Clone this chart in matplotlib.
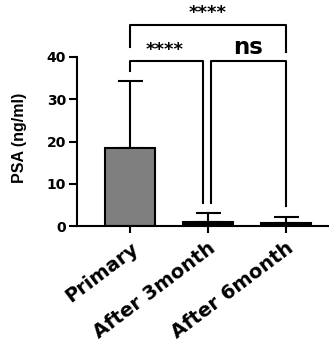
import matplotlib
matplotlib.use("Agg")
import matplotlib.pyplot as plt
from matplotlib.transforms import ScaledTranslation

plt.rcParams['font.family'] = ['DejaVu Sans']
plt.rcParams['font.weight'] = 'bold'

categories = ["Primary", "After 3month", "After 6month"]
means = [18.4, 1.0, 0.8]
err_up = [15.9, 2.0, 1.4]
bar_colors = ["#7f7f7f", "#000000", "#000000"]
yticks = [0, 10, 20, 30, 40]

W, H = 329, 345
fig = plt.figure(figsize=(W / 100, H / 100), dpi=100)
ax = fig.add_axes([77 / W, (H - 226) / H, (W - 77) / W + 0.01, (226 - 57) / H])

x = list(range(len(categories)))
ax.bar(x, means, width=0.645, color=bar_colors, edgecolor="black", linewidth=1.5, zorder=2)
ax.errorbar(x, means, yerr=[[0] * 3, err_up], fmt="none", ecolor="black",
            elinewidth=1.5, capsize=9, capthick=1.5, zorder=1)

ax.set_xlim(-0.684, 2.6)
ax.set_ylim(0, 40)
ax.set_yticks(yticks)
ax.set_xticks(x)
ax.set_xticklabels(categories, rotation=37, ha="right", va="top", rotation_mode="anchor",
                   fontsize=14, fontweight="bold")
offset = ScaledTranslation(9 / 100, 0, fig.dpi_scale_trans)
for lab in ax.get_xticklabels():
    lab.set_transform(lab.get_transform() + offset)
ax.tick_params(axis="y", labelsize=10, width=1.5, length=6, pad=2)
ax.tick_params(axis="x", width=1.5, length=5, pad=4)
for lab in ax.get_yticklabels():
    lab.set_fontweight("bold")
ax.set_ylabel("PSA (ng/ml)", fontsize=11.5, fontweight="bold",
              family=["Liberation Sans", "DejaVu Sans"], va="center")
ax.yaxis.set_label_coords(-57 / 252, 0.52)
for s in ["top", "right"]:
    ax.spines[s].set_visible(False)
for s in ["left", "bottom"]:
    ax.spines[s].set_linewidth(1.5)

lk = dict(color="black", linewidth=1.5, clip_on=False)
# lower left bracket
ax.plot([0, 0, 0.937, 0.937], [36.7, 39.0, 39.0, 5.4], **lk)
# lower right bracket
ax.plot([1.04, 1.04, 2.0, 2.0], [5.4, 39.0, 39.0, 4.7], **lk)
# top bracket
ax.plot([0, 0, 2.0, 2.0], [42.4, 47.6, 47.6, 41.2], **lk)

ax.text(0.44, 39.6, "****", ha="center", va="bottom", fontsize=13, fontweight="bold", clip_on=False)
ax.text(1.0, 48.2, "****", ha="center", va="bottom", fontsize=13, fontweight="bold", clip_on=False)
ax.text(1.52, 39.5, "ns", ha="center", va="bottom", fontsize=16.5, fontweight="bold", clip_on=False)

fig.savefig("out.png", dpi=100)
